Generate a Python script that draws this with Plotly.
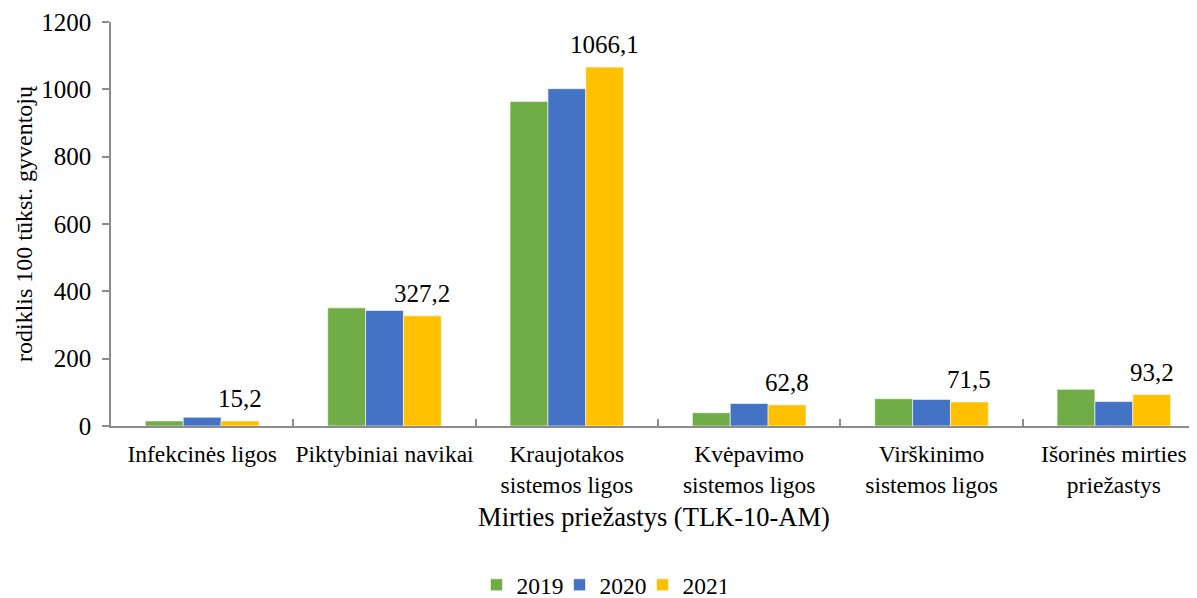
import plotly.graph_objects as go

categories = ["Infekcinės ligos", "Piktybiniai navikai", "Kraujotakos<br>sistemos ligos",
              "Kvėpavimo<br>sistemos ligos", "Virškinimo<br>sistemos ligos", "Išorinės mirties<br>priežastys"]
years = ["2019", "2020", "2021"]
v2019 = [15, 351, 964, 39.5, 81, 109]
v2020 = [26, 343, 1002, 67, 79, 72.5]
v2021 = [15.2, 327.2, 1066.1, 62.8, 71.5, 93.2]
labels2021 = ["15,2", "327,2", "1066,1", "62,8", "71,5", "93,2"]
colors = ["#70AD47", "#4472C4", "#FFC000"]

# page body has an 8px default margin, so the figure is slightly smaller
OFF = 8
W, H = 1197 - OFF, 598 - OFF
ML, MR, MT = 111 - OFF, 0, 22 - OFF
MB = H - (426 - OFF)
BARGAP = 0.377
XRANGE = [-0.5, 5.456]
FONT = "Liberation Serif"

fig = go.Figure()
for name, vals, col in zip(years, [v2019, v2020, v2021], colors):
    fig.add_trace(go.Bar(x=categories, y=vals, name=name,
                         marker=dict(color=col, line=dict(color="white", width=0.6))))

plot_w = W - ML - MR
plot_h = H - MT - MB
cat_px = plot_w / (XRANGE[1] - XRANGE[0])
bar_px = cat_px * (1 - BARGAP) / 3
for cat, val, lab in zip(categories, v2021, labels2021):
    fig.add_annotation(x=cat, y=val, text=lab, showarrow=False, xref="x", yref="y",
                       xshift=bar_px, yshift=7, yanchor="bottom", xanchor="center",
                       font=dict(family=FONT, size=25, color="black"))

axis_col = "#8c8c8c"
fig.update_layout(
    width=W, height=H,
    margin=dict(l=ML, r=MR, t=MT, b=MB, autoexpand=False),
    barmode="group", bargap=BARGAP, bargroupgap=0,
    plot_bgcolor="white", paper_bgcolor="white",
    font=dict(family=FONT, size=23, color="black"),
    showlegend=True,
    legend=dict(orientation="h", x=(601 - OFF - ML) / plot_w, xanchor="center",
                y=((426 - OFF) - (585 - OFF)) / plot_h, yanchor="middle",
                font=dict(family=FONT, size=23.5), entrywidth=38, entrywidthmode="pixels",
                tracegroupgap=0),
    xaxis=dict(range=XRANGE, showline=True, linecolor=axis_col, linewidth=2,
               ticks="inside", ticklen=7, tickcolor=axis_col, tickwidth=1.5,
               tickson="boundaries", showgrid=False, automargin=False,
               tickangle=0, ticklabelstandoff=6,
               tickfont=dict(family=FONT, size=23.5),
               title=dict(text="Mirties priežastys (TLK-10-AM)", standoff=11,
                          font=dict(family=FONT, size=26.5))),
    yaxis=dict(range=[0, 1200], tickvals=[0, 200, 400, 600, 800, 1000, 1200],
               showline=True, linecolor=axis_col, linewidth=1.5,
               ticks="outside", ticklen=7, tickcolor=axis_col, tickwidth=1.5,
               showgrid=False, zeroline=False, automargin=False,
               ticklabelstandoff=6,
               tickfont=dict(family=FONT, size=25),
               title=dict(text="rodiklis 100 tūkst. gyventojų", standoff=2,
                          font=dict(family=FONT, size=24))),
)

fig.write_html("out.html")
